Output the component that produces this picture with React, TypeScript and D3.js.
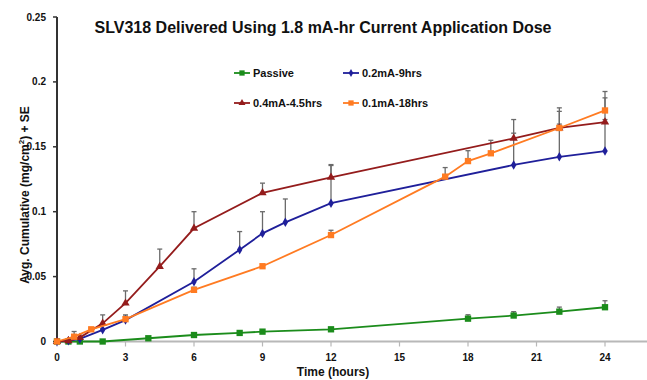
import React, { useEffect, useRef } from 'react';
import * as d3 from 'd3';

// hours / cumulative amount (mg/cm2) / SE
const passiveHours = [0, 0.5, 1, 2, 4, 6, 8, 9, 12, 18, 20, 22, 24];
const passiveValues = [0, 0, 0, 0, 0.0025, 0.005, 0.0066, 0.0076, 0.0094, 0.0176, 0.02, 0.023, 0.0264];
const passiveSE = [0, 0, 0, 0, 0, 0, 0, 0, 0, 0.003, 0.003, 0.0035, 0.005];

const blueHours = [0, 0.5, 1, 2, 3, 6, 8, 9, 10, 12, 20, 22, 24];
const blueValues = [0, 0.0005, 0.002, 0.009, 0.0165, 0.046, 0.0707, 0.0833, 0.0918, 0.1066, 0.136, 0.1423, 0.1467];
const blueSE = [0, 0, 0, 0.001, 0.003, 0.01, 0.014, 0.0167, 0.018, 0.029, 0.035, 0.035, 0.041];

const redHours = [0, 0.5, 1, 2, 3, 4.5, 6, 9, 12, 20, 22, 24];
const redValues = [0, 0.0005, 0.003, 0.014, 0.0295, 0.0578, 0.0872, 0.1145, 0.1265, 0.1565, 0.1645, 0.169];
const redSE = [0, 0, 0.002, 0.0065, 0.0095, 0.0134, 0.0128, 0.0075, 0.0098, 0.004, 0.003, 0.002];

const orangeHours = [0, 0.75, 1.5, 3, 6, 9, 12, 17, 18, 19, 22, 24];
const orangeValues = [0, 0.0037, 0.0094, 0.0172, 0.0398, 0.058, 0.082, 0.127, 0.139, 0.145, 0.1645, 0.178];
const orangeSE = [0, 0.004, 0.001, 0.0033, 0.002, 0.001, 0.0037, 0.007, 0.008, 0.01, 0.0155, 0.0146];

const xTicks = [0, 3, 6, 9, 12, 15, 18, 21, 24];
const yTicks = [0, 0.05, 0.1, 0.15, 0.2, 0.25];

const FONT = '"Liberation Sans", Arial, sans-serif';

type Series = {
  name: string;
  color: string;
  marker: 'square' | 'diamond' | 'triangle';
  hours: number[];
  values: number[];
  se: number[];
};

const series: Series[] = [
  { name: 'Passive', color: '#1b8c1b', marker: 'square', hours: passiveHours, values: passiveValues, se: passiveSE },
  { name: '0.2mA-9hrs', color: '#1f1f9a', marker: 'diamond', hours: blueHours, values: blueValues, se: blueSE },
  { name: '0.4mA-4.5hrs', color: '#941c1c', marker: 'triangle', hours: redHours, values: redValues, se: redSE },
  { name: '0.1mA-18hrs', color: '#ff7b22', marker: 'square', hours: orangeHours, values: orangeValues, se: orangeSE },
];

const symbolFor = (m: Series['marker'], scale = 1) => {
  if (m === 'square') return d3.symbol(d3.symbolSquare, 40 * scale)();
  if (m === 'diamond') return d3.symbol(d3.symbolDiamond, 26 * scale)();
  return d3.symbol(d3.symbolTriangle, 30 * scale)();
};

const App = () => {
  const svgRef = useRef<SVGSVGElement>(null);

  useEffect(() => {
    const svg = d3.select(svgRef.current);
    svg.selectAll('*').remove();

    const x = d3.scaleLinear().domain([0, 27]).range([57, 673.5]);
    const y = d3.scaleLinear().domain([0, 0.25]).range([341.5, 17]);

    // x axis (light grey)
    const xAxis = svg.append('g').attr('transform', `translate(0,${y(0)})`);
    xAxis.append('line')
      .attr('x1', x(0)).attr('x2', 647)
      .attr('stroke', '#b8b8b8').attr('stroke-width', 2);
    xAxis.selectAll('.xt')
      .data(xTicks)
      .enter()
      .append('line')
      .attr('x1', d => x(d)).attr('x2', d => x(d))
      .attr('y1', 0).attr('y2', 5)
      .attr('stroke', '#b8b8b8').attr('stroke-width', 1.2);
    xAxis.selectAll('.xl')
      .data(xTicks)
      .enter()
      .append('text')
      .attr('x', d => x(d))
      .attr('y', 19)
      .attr('text-anchor', 'middle')
      .style('font', `bold 10px ${FONT}`)
      .attr('fill', '#111')
      .text(d => d);

    // y axis
    const yAxis = svg.append('g').attr('transform', `translate(${x(0)},0)`);
    yAxis.append('line')
      .attr('y1', y(0)).attr('y2', y(0.25))
      .attr('stroke', '#333').attr('stroke-width', 2);
    yAxis.selectAll('.yt')
      .data(yTicks)
      .enter()
      .append('line')
      .attr('x1', -4).attr('x2', 0)
      .attr('y1', d => y(d)).attr('y2', d => y(d))
      .attr('stroke', '#333').attr('stroke-width', 1.5);
    yAxis.selectAll('.yl')
      .data(yTicks)
      .enter()
      .append('text')
      .attr('x', -11)
      .attr('y', d => y(d) + 3.5)
      .attr('text-anchor', 'end')
      .style('font', `bold 10px ${FONT}`)
      .attr('fill', '#111')
      .text(d => String(d));

    // error bars
    series.forEach(s => {
      const g = svg.append('g');
      s.hours.forEach((h, i) => {
        if (s.se[i] <= 0) return;
        const top = y(s.values[i] + s.se[i]);
        g.append('line')
          .attr('x1', x(h)).attr('x2', x(h))
          .attr('y1', y(s.values[i])).attr('y2', top)
          .attr('stroke', '#6a6a6a').attr('stroke-width', 1.3);
        g.append('line')
          .attr('x1', x(h) - 2.5).attr('x2', x(h) + 2.5)
          .attr('y1', top).attr('y2', top)
          .attr('stroke', '#6a6a6a').attr('stroke-width', 1.3);
      });
    });

    // lines + markers
    series.forEach(s => {
      const pts = s.hours.map((h, i) => [h, s.values[i]] as [number, number]);
      const line = d3.line<[number, number]>()
        .x(d => x(d[0]))
        .y(d => y(d[1]));
      svg.append('path')
        .datum(pts)
        .attr('fill', 'none')
        .attr('stroke', s.color)
        .attr('stroke-width', 1.8)
        .attr('d', line);
      svg.append('g')
        .selectAll('path')
        .data(pts)
        .enter()
        .append('path')
        .attr('d', symbolFor(s.marker))
        .attr('transform', d => `translate(${x(d[0])},${y(d[1])})`)
        .attr('fill', s.color);
    });

    // legend
    const legendPos = [[234, 73], [343, 73], [234, 103], [343, 103]];
    series.forEach((s, i) => {
      const [lx, ly] = legendPos[i];
      const g = svg.append('g').attr('transform', `translate(${lx},${ly})`);
      g.append('line').attr('x1', 0).attr('x2', 16)
        .attr('stroke', s.color).attr('stroke-width', 1.8);
      g.append('path').attr('d', symbolFor(s.marker, 0.7))
        .attr('transform', 'translate(8,0)').attr('fill', s.color);
      g.append('text')
        .attr('x', 19).attr('y', 4)
        .style('font', `bold 11px ${FONT}`)
        .attr('fill', '#111')
        .text(s.name);
    });

    // title and axis titles
    svg.append('text')
      .attr('x', 323).attr('y', 33)
      .attr('text-anchor', 'middle')
      .style('font', `bold 16px ${FONT}`)
      .attr('fill', '#111')
      .text('SLV318 Delivered Using 1.8 mA-hr Current Application Dose');

    svg.append('text')
      .attr('x', 333).attr('y', 376)
      .attr('text-anchor', 'middle')
      .style('font', `bold 12px ${FONT}`)
      .attr('fill', '#111')
      .text('Time (hours)');

    const yt = svg.append('text')
      .attr('transform', 'translate(29,195) rotate(-90)')
      .attr('text-anchor', 'middle')
      .style('font', `bold 12px ${FONT}`)
      .attr('fill', '#111');
    yt.append('tspan').text('Avg. Cumulative (mg/cm');
    yt.append('tspan').attr('dy', -5).style('font-size', '8px').text('2');
    yt.append('tspan').attr('dy', 5).text(') + SE');
  }, []);

  return (
    <svg
      ref={svgRef}
      width={647}
      height={380}
      style={{ position: 'absolute', left: 0, top: 0, background: '#fff' }}
    />
  );
};

export default App;
